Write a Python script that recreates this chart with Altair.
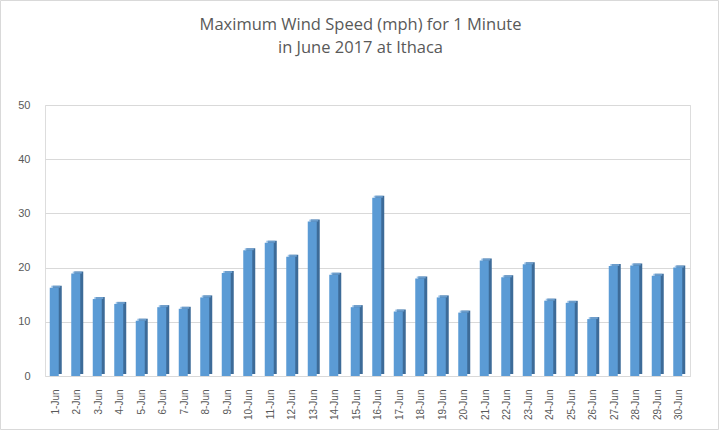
import altair as alt
import pandas as pd

days = [f"{i}-Jun" for i in range(1, 31)]
speeds = [16.3, 18.9, 14.2, 13.3, 10.2, 12.7, 12.4, 14.5, 19.0, 23.2,
          24.6, 22.0, 28.5, 18.7, 12.7, 32.9, 11.9, 18.0, 14.5, 11.7,
          21.3, 18.2, 20.6, 13.9, 13.5, 10.5, 20.3, 20.4, 18.5, 20.0]
title_lines = ["Maximum Wind Speed (mph) for 1 Minute", "in June 2017 at Ithaca"]

df = pd.DataFrame({"day": days, "speed": speeds})

x_enc = alt.X(
    "day:N", sort=days, title=None,
    scale=alt.Scale(paddingInner=0, paddingOuter=0),
    axis=alt.Axis(labelAngle=-90, labelFontSize=10, labelColor="#595959",
                  labelFont="Liberation Sans", ticks=False, domain=False,
                  labelPadding=13, grid=False),
)
y_enc = alt.Y(
    "speed:Q", title=None,
    scale=alt.Scale(domain=[0, 50], nice=False),
    axis=alt.Axis(values=[0, 10, 20, 30, 40, 50], labelFontSize=11,
                  labelColor="#595959", labelFont="Liberation Sans",
                  ticks=False, domain=False, labelPadding=15,
                  gridColor="#d9d9d9", gridWidth=1),
)

base = alt.Chart(df)

side = base.mark_bar(size=9, xOffset=1.5, yOffset=-2, color="#3d6b98").encode(
    x=x_enc, y=y_enc)
front = base.mark_bar(size=9, xOffset=-1.5, color="#5b9bd5").encode(
    x=x_enc, y=y_enc)
top = base.mark_tick(size=9, thickness=2, xOffset=0, yOffset=-1,
                     color="#7fb2e2", orient="horizontal").encode(
    x=x_enc, y=y_enc)

border = alt.Chart(pd.DataFrame({"a": [0]})).mark_rect(
    fill=None, stroke="#d9d9d9", strokeWidth=1
).encode(x=alt.value(-44.5), x2=alt.value(673.5),
         y=alt.value(-104.5), y2=alt.value(324.5))

chart = alt.layer(border, side, front, top).properties(
    width=645, height=271,
    autosize=alt.AutoSizeParams(type="none"),
    padding={"left": 45, "top": 105, "right": 30, "bottom": 57},
    title=alt.TitleParams(text=title_lines, font="Open Sans", fontSize=16.5,
                          fontWeight="normal", color="#595959",
                          anchor="middle", dx=-7, offset=-56, lineHeight=23),
).configure_view(stroke=None).configure(background="white")

chart.save("out.html", embed_options={"renderer": "svg", "actions": False})
